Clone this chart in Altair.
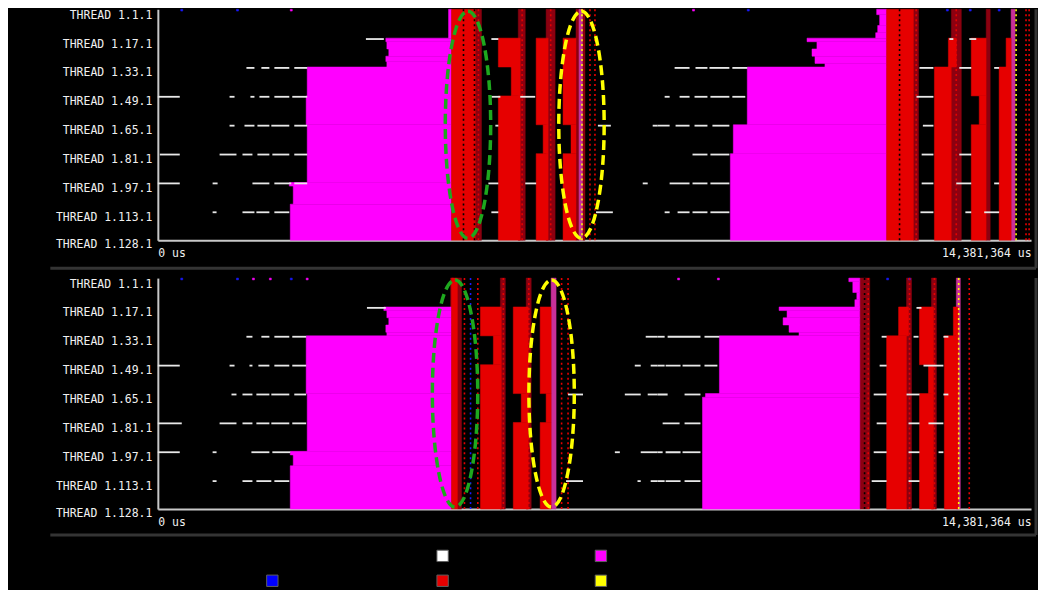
import altair as alt
import pandas as pd

TOTAL_US = 14381364

# states and their colours
state_domain = ["magenta", "red", "mixed", "pinkmix", "white", "blue", "yellow", "black", "green"]
state_range = ["#ff00ff", "#e60000", "#8c0010", "#c8309a", "#ffffff", "#1a1aff", "#ffff00", "#000000", "#1ea81e"]

# thread labels (row index -> label)
tick_rows = [0, 16, 32, 48, 64, 80, 96, 112, 127]

# ---------------- top trace: (row_from, row_to, start_ms, end_ms, state)
top_mixed = [
    (0, 128, 5231, 5330, "mixed"),
    (0, 128, 5936, 6051, "mixed"),
    (0, 128, 6395, 6543, "mixed"),
    (0, 128, 6887, 6936, "mixed"),
    (0, 128, 6936, 7002, "pinkmix"),
    (0, 128, 7002, 7035, "mixed"),
    (0, 128, 12446, 12528, "mixed"),
    (0, 128, 13069, 13233, "mixed"),
    (0, 128, 13643, 13709, "mixed"),
    (0, 128, 14053, 14118, "pinkmix"),
]
top_blocks = [
    (0, 16, 4788, 4837, "magenta"),
    (16, 18, 3755, 4837, "magenta"),
    (18, 22, 3772, 4837, "magenta"),
    (22, 26, 3804, 4837, "magenta"),
    (26, 29, 3755, 4837, "magenta"),
    (29, 32, 3772, 4837, "magenta"),
    (32, 48, 2460, 4837, "magenta"),
    (48, 64, 2443, 4837, "magenta"),
    (64, 96, 2460, 4837, "magenta"),
    (96, 98, 2165, 4837, "magenta"),
    (98, 108, 2230, 4837, "magenta"),
    (108, 128, 2181, 4837, "magenta"),
    (0, 128, 4837, 5231, "red"),
    (16, 32, 5608, 5969, "red"),
    (32, 48, 5821, 5969, "red"),
    (48, 128, 5608, 5969, "red"),
    (16, 64, 6231, 6428, "red"),
    (64, 80, 6346, 6428, "red"),
    (80, 128, 6231, 6428, "red"),
    (16, 64, 6674, 6887, "red"),
    (64, 80, 6805, 6887, "red"),
    (80, 128, 6674, 6887, "red"),
    (0, 3, 11839, 12003, "magenta"),
    (3, 9, 11888, 12003, "magenta"),
    (9, 13, 11856, 12003, "magenta"),
    (13, 16, 11823, 12003, "magenta"),
    (16, 18, 10692, 12003, "magenta"),
    (18, 22, 10855, 12003, "magenta"),
    (22, 26, 10774, 12003, "magenta"),
    (26, 30, 10823, 12003, "magenta"),
    (30, 32, 10987, 12003, "magenta"),
    (32, 64, 9708, 12003, "magenta"),
    (64, 80, 9478, 12003, "magenta"),
    (80, 128, 9429, 12003, "magenta"),
    (0, 128, 12003, 12446, "red"),
    (16, 32, 13020, 13151, "red"),
    (32, 128, 12790, 13069, "red"),
    (16, 48, 13397, 13643, "red"),
    (48, 64, 13528, 13643, "red"),
    (64, 128, 13397, 13643, "red"),
    (16, 32, 13971, 14053, "red"),
    (32, 128, 13856, 14053, "red"),
    # sparse events on the first thread
    (0, 1, 377, 410, "blue"),
    (0, 1, 1295, 1328, "blue"),
    (0, 1, 2181, 2214, "magenta"),
    (0, 1, 8806, 8839, "magenta"),
    (0, 1, 9708, 9741, "blue"),
    (0, 1, 12987, 13020, "blue"),
    (0, 1, 13364, 13397, "blue"),
    (0, 1, 13840, 13873, "blue"),
]
# speckled columns: (time_ms, row_from, row_to, state)
top_dotted = [
    (5034, 0, 128, "black"),
    (5215, 0, 128, "black"),
    (5280, 0, 128, "red"),
    (6000, 0, 128, "red"),
    (6470, 0, 128, "red"),
    (6985, 0, 128, "yellow"),
    (7117, 0, 128, "red"),
    (7199, 0, 128, "red"),
    (12216, 0, 128, "black"),
    (12490, 0, 128, "red"),
    (13150, 0, 128, "red"),
    (14135, 0, 128, "yellow"),
    (14299, 0, 128, "red"),
    (14350, 0, 128, "red"),
]
# white communication dashes: (row, start_ms, end_ms)
top_dashes = [
    (16, 3427, 3722),
    (32, 1459, 1591), (32, 1705, 1837), (32, 1919, 2165), (32, 2247, 2460),
    (48, 0, 361), (48, 1181, 1263), (48, 1525, 1591), (48, 1673, 1837), (48, 1919, 2165), (48, 2214, 2460),
    (64, 1181, 1263), (64, 1427, 1591), (64, 1640, 1837), (64, 1869, 2165), (64, 2247, 2460),
    (80, 33, 361), (80, 1017, 1295), (80, 1394, 1558), (80, 1640, 1837), (80, 1886, 2165), (80, 2247, 2460),
    (96, 0, 361), (96, 902, 984), (96, 1558, 1837), (96, 1919, 2197), (96, 2247, 2460),
    (112, 902, 967), (112, 1394, 1591), (112, 1623, 1837), (112, 1919, 2165),
    (16, 5493, 5608), (48, 5493, 5641), (48, 5969, 6215),
    (64, 5559, 5608), (64, 7248, 7461), (64, 8150, 8232),
    (96, 5444, 5608), (96, 6051, 6231), (96, 7986, 8068),
    (112, 5493, 5608), (112, 7216, 7494),
    (32, 8511, 8757), (32, 8855, 9052), (32, 9085, 9413), (32, 9462, 9708),
    (48, 8347, 8429), (48, 8593, 8757), (48, 8839, 9052), (48, 9101, 9413), (48, 9462, 9675),
    (64, 8232, 8429), (64, 8527, 8757), (64, 8839, 9052), (64, 9134, 9413),
    (80, 8806, 9052), (80, 9101, 9413),
    (96, 8429, 8757), (96, 8806, 9052), (96, 9101, 9413),
    (112, 8347, 8429), (112, 8560, 8757), (112, 8806, 9052), (112, 9101, 9413),
    (16, 13036, 13102), (16, 13364, 13479),
    (32, 12544, 12774), (32, 13200, 13397), (32, 13774, 13856),
    (48, 12495, 12774), (64, 12600, 12774),
    (80, 12580, 12774), (80, 13200, 13397),
    (96, 12580, 12774), (96, 13150, 13397), (96, 13774, 13856),
    (112, 12560, 12774), (112, 13300, 13397), (112, 13610, 13856),
]
top_rings = [(5108, 64, "green"), (6977, 64, "yellow")]

# ---------------- bottom trace
bottom_mixed = [
    (0, 16, 4821, 4870, "mixed"),
    (0, 128, 4936, 5001, "mixed"),
    (0, 128, 5641, 5723, "mixed"),
    (0, 128, 6067, 6149, "mixed"),
    (0, 128, 6477, 6559, "pinkmix"),
    (0, 128, 11561, 11725, "mixed"),
    (0, 128, 12331, 12413, "mixed"),
    (0, 128, 12741, 12823, "mixed"),
    (0, 128, 13151, 13217, "pinkmix"),
]
bottom_blocks = [
    (16, 18, 3722, 4837, "magenta"),
    (18, 22, 3772, 4837, "magenta"),
    (22, 26, 3804, 4837, "magenta"),
    (26, 30, 3755, 4837, "magenta"),
    (30, 32, 3772, 4837, "magenta"),
    (32, 64, 2443, 4837, "magenta"),
    (64, 96, 2460, 4837, "magenta"),
    (96, 98, 2181, 4837, "magenta"),
    (98, 104, 2230, 4837, "magenta"),
    (104, 128, 2181, 4837, "magenta"),
    (0, 128, 4837, 4936, "red"),
    (16, 32, 5313, 5657, "red"),
    (32, 48, 5526, 5657, "red"),
    (48, 128, 5313, 5657, "red"),
    (16, 64, 5854, 6100, "red"),
    (64, 80, 5985, 6100, "red"),
    (80, 128, 5854, 6100, "red"),
    (16, 64, 6297, 6477, "red"),
    (64, 80, 6395, 6477, "red"),
    (80, 128, 6297, 6477, "red"),
    (0, 2, 11380, 11561, "magenta"),
    (2, 8, 11446, 11561, "magenta"),
    (8, 12, 11512, 11561, "magenta"),
    (12, 16, 11480, 11561, "magenta"),
    (16, 18, 10232, 11561, "magenta"),
    (18, 22, 10363, 11561, "magenta"),
    (22, 26, 10298, 11561, "magenta"),
    (26, 30, 10396, 11561, "magenta"),
    (30, 32, 10560, 11561, "magenta"),
    (32, 64, 9249, 11561, "magenta"),
    (64, 66, 9019, 11561, "magenta"),
    (66, 128, 8970, 11561, "magenta"),
    (16, 32, 12200, 12364, "red"),
    (32, 128, 12003, 12331, "red"),
    (16, 48, 12544, 12774, "red"),
    (48, 64, 12692, 12774, "red"),
    (64, 128, 12544, 12774, "red"),
    (16, 32, 13102, 13184, "red"),
    (32, 128, 12954, 13184, "red"),
    # sparse events on the first thread
    (0, 1, 377, 410, "blue"),
    (0, 1, 1295, 1328, "blue"),
    (0, 1, 1558, 1591, "magenta"),
    (0, 1, 1837, 1869, "magenta"),
    (0, 1, 2181, 2214, "blue"),
    (0, 1, 2443, 2476, "magenta"),
    (0, 1, 8560, 8593, "magenta"),
    (0, 1, 9216, 9249, "magenta"),
    (0, 1, 12003, 12036, "blue"),
    (0, 1, 12364, 12397, "blue"),
]
bottom_dotted = [
    (5050, 0, 128, "red"),
    (5150, 0, 128, "blue"),
    (5270, 0, 128, "red"),
    (5690, 0, 128, "red"),
    (6110, 0, 128, "red"),
    (6650, 0, 128, "red"),
    (6756, 0, 128, "red"),
    (11640, 0, 128, "black"),
    (11700, 0, 128, "red"),
    (12380, 0, 128, "red"),
    (12790, 0, 128, "red"),
    (13190, 0, 128, "yellow"),
    (13364, 0, 128, "red"),
]
bottom_dashes = [
    (16, 3444, 3755),
    (32, 1459, 1558), (32, 1705, 1837), (32, 1919, 2165), (32, 2214, 2443),
    (48, 0, 361), (48, 1181, 1263), (48, 1509, 1558), (48, 1656, 1837), (48, 1919, 2165), (48, 2214, 2443),
    (64, 1213, 1295), (64, 1394, 1558), (64, 1623, 1837), (64, 1869, 2165), (64, 2247, 2443),
    (80, 0, 394), (80, 1017, 1295), (80, 1394, 1558), (80, 1623, 1837), (80, 1869, 2165), (80, 2214, 2443),
    (96, 0, 361), (96, 902, 967), (96, 1541, 1837), (96, 1886, 2181),
    (112, 902, 967), (112, 1394, 1558), (112, 1623, 1869), (112, 1919, 2165),
    (32, 8035, 8232), (48, 7855, 7953), (48, 8117, 8232),
    (64, 6756, 7002), (64, 7691, 7953), (64, 8068, 8232),
    (96, 7527, 7609), (96, 7953, 8232),
    (112, 6723, 7002), (112, 7900, 7953), (112, 8117, 8232),
    (32, 8232, 8347), (32, 8396, 8937), (32, 9003, 9249),
    (48, 8232, 8347), (48, 8363, 8609), (48, 8642, 8937), (48, 9003, 9216),
    (64, 8232, 8396), (64, 8675, 8937),
    (80, 8314, 8593), (80, 8675, 8937),
    (96, 8232, 8314), (96, 8363, 8609), (96, 8642, 8937),
    (112, 8232, 8347), (112, 8363, 8609), (112, 8675, 8937),
    (16, 12495, 12577),
    (32, 11921, 12003), (32, 12446, 12528), (32, 12938, 13020),
    (48, 11888, 12003), (48, 12610, 12938),
    (64, 11790, 12003), (64, 12331, 12544), (64, 12938, 13020),
    (80, 11839, 12003), (80, 12364, 12544), (80, 12692, 12938),
    (96, 11790, 12003), (96, 12364, 12544), (96, 12858, 12938),
    (112, 11757, 12003), (112, 12364, 12544),
]
bottom_rings = [(4895, 64, "green"), (6485, 64, "yellow")]

# legend swatches: (column, row, colour)
legend_items = [(0, 1, "#0000ff"), (1, 0, "#ffffff"), (1, 1, "#e60000"), (2, 0, "#ff00ff"), (2, 1, "#ffff00")]

# ---------------------------------------------------------------------------
ELLIPSE = "M0,-1 A0.2,1 0 1,1 0,1 A0.2,1 0 1,1 0,-1 Z"
FONT = "DejaVu Sans Mono"

color_scale = alt.Scale(domain=state_domain, range=state_range)
x_scale = alt.Scale(domain=[0, TOTAL_US], nice=False, zero=False)
y_scale = alt.Scale(domain=[0, 128], reverse=True, nice=False, zero=False)

x_axis = alt.Axis(values=[0, TOTAL_US], labelExpr="format(datum.value, ',') + ' us'",
                  labelFlush=True, ticks=False, grid=False, domainColor="#c8c8c8",
                  domainWidth=2, labelColor="#f0f0f0", labelFont=FONT, labelFontSize=11.5,
                  labelPadding=7, title=None)
y_axis = alt.Axis(values=tick_rows,
                  labelExpr="'THREAD 1.' + (datum.value == 127 ? 128 : datum.value + 1) + '.1'",
                  ticks=False, grid=False, domainColor="#c8c8c8", domainWidth=2,
                  labelColor="#f0f0f0", labelFont=FONT, labelFontSize=11.5, labelPadding=6,
                  labelOffset=6, labelLimit=300, labelBaseline="middle", title=None)


def panel(mixed, blocks, dotted, dashes, rings, sep_y):
    seg = pd.DataFrame(mixed + blocks, columns=["r0", "r1", "t0", "t1", "state"])
    seg["t0"] = seg["t0"] * 1000
    seg["t1"] = seg["t1"] * 1000
    segs = alt.Chart(seg).mark_rect(strokeWidth=0.5).encode(
        x=alt.X("t0:Q", scale=x_scale, axis=x_axis), x2="t1:Q",
        y=alt.Y("r0:Q", scale=y_scale, axis=y_axis), y2="r1:Q",
        color=alt.Color("state:N", scale=color_scale, legend=None),
        stroke=alt.Stroke("state:N", scale=color_scale, legend=None),
    )
    dt = pd.DataFrame(dotted, columns=["t", "r0", "r1", "state"])
    dt["t"] = dt["t"] * 1000
    dots = alt.Chart(dt).mark_rule(strokeWidth=1.6, strokeDash=[2, 3]).encode(
        x=alt.X("t:Q", scale=x_scale, axis=x_axis),
        y=alt.Y("r0:Q", scale=y_scale, axis=y_axis), y2="r1:Q",
        color=alt.Color("state:N", scale=color_scale, legend=None),
    )
    ds = pd.DataFrame(dashes, columns=["row", "t0", "t1"])
    ds["t0"] = ds["t0"] * 1000
    ds["t1"] = ds["t1"] * 1000
    ds["row2"] = ds["row"] + 1
    dash = alt.Chart(ds).mark_rect(color="#e8e8e8").encode(
        x=alt.X("t0:Q", scale=x_scale, axis=x_axis), x2="t1:Q",
        y=alt.Y("row:Q", scale=y_scale, axis=y_axis), y2="row2:Q",
    )
    rg = pd.DataFrame(rings, columns=["t", "r", "state"])
    rg["t"] = rg["t"] * 1000
    ring = alt.Chart(rg).mark_point(shape=ELLIPSE, size=51984, filled=False, strokeWidth=3.5,
                                    strokeDash=[10, 5], opacity=1).encode(
        x=alt.X("t:Q", scale=x_scale, axis=x_axis),
        y=alt.Y("r:Q", scale=y_scale, axis=y_axis),
        color=alt.Color("state:N", scale=color_scale, legend=None),
    )
    one = pd.DataFrame({"k": [0]})
    hsep = alt.Chart(one).mark_rule(color="#343434", strokeWidth=3).encode(
        x=alt.value(-108), x2=alt.value(882), y=alt.value(sep_y))
    vsep = alt.Chart(one).mark_rule(color="#343434", strokeWidth=3).encode(
        x=alt.value(882), y=alt.value(0), y2=alt.value(sep_y))
    return alt.layer(segs, dots, dash, ring, hsep, vsep).properties(width=877, height=232)


top = panel(top_mixed, top_blocks, top_dotted, top_dashes, top_rings, 260)
bottom = panel(bottom_mixed, bottom_blocks, bottom_dotted, bottom_dashes, bottom_rings, 258)

lg = pd.DataFrame(legend_items, columns=["col", "row", "colour"])
legend = alt.Chart(lg).mark_square(size=130, opacity=1, stroke="#606060", strokeWidth=1).encode(
    x=alt.X("col:Q", scale=alt.Scale(domain=[0, 1, 2], range=[115, 286, 445]), axis=None),
    y=alt.Y("row:Q", scale=alt.Scale(domain=[0, 1], range=[9, 34]), axis=None),
    color=alt.Color("colour:N", scale=None),
).properties(width=877, height=40)

chart = alt.vconcat(top, bottom, legend, spacing=38, bounds="flush").properties(
    padding={"left": 40.5, "top": -5, "right": 0, "bottom": 0},
    background="#000000",
).configure_view(strokeWidth=0)

chart.save("out.html", embed_options={"renderer": "svg", "actions": False})
